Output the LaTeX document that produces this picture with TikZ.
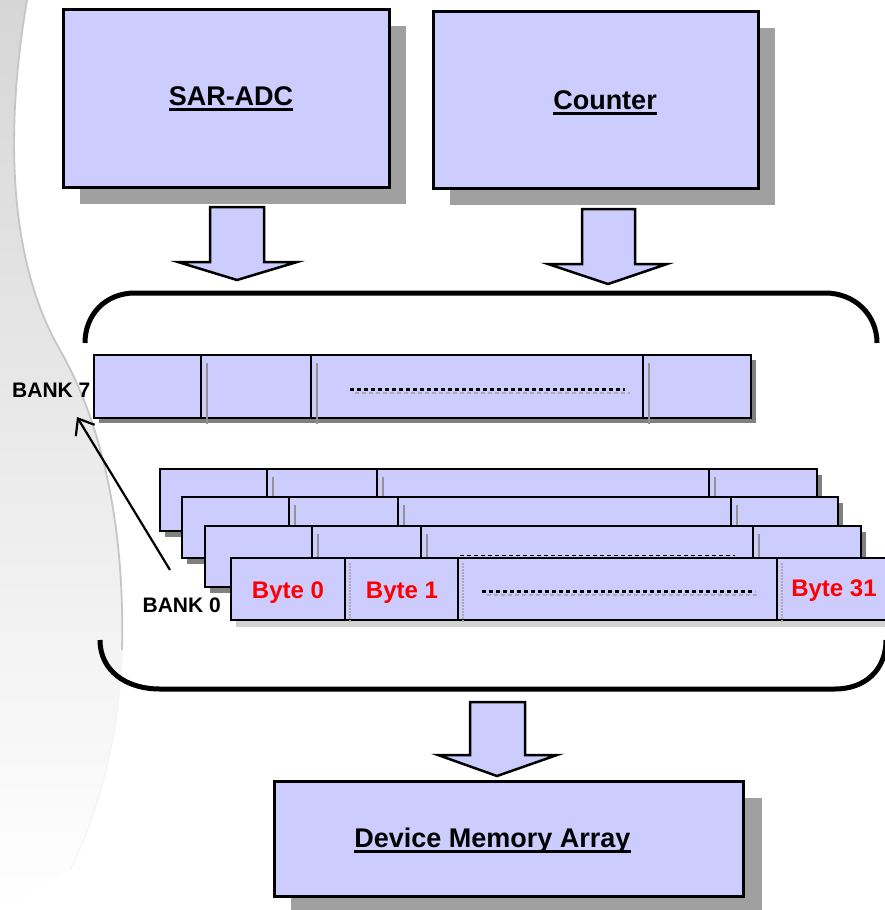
\documentclass[tikz,border=0pt]{standalone}
\usepackage{fontspec}
\setmainfont{Liberation Sans}
\usetikzlibrary{arrows.meta,shadows}
\definecolor{boxfill}{RGB}{204,204,255}
\definecolor{shadowgray}{RGB}{160,160,160}
\definecolor{rowshade}{RGB}{128,128,128}
\newcommand\myul[1]{\setbox0\hbox{#1}\rlap{\rule[-5.5pt]{\wd0}{2.6pt}}\box0}
\tikzset{
  bigbox/.style={draw=black, line width=3pt, fill=boxfill, inner sep=0pt, anchor=north west,
    drop shadow={shadow xshift=16pt, shadow yshift=-16pt, fill=shadowgray, opacity=1}},
  boxtitle/.style={font=\bfseries\fontsize{27}{30}\selectfont, inner sep=0pt, anchor=base},
  blockarrow/.style={draw=black, line width=2.5pt, fill=boxfill, line join=miter},
  rowbox/.style={draw=black, line width=2.6pt, fill=boxfill},
  rowshadow/.style={fill=rowshade, draw=none},
  divider/.style={line width=2.8pt},
  divshade/.style={line width=2.2pt, draw=gray!85},
  divdots/.style={line width=1.3pt, draw=gray!65, dash pattern=on 1.5pt off 1.5pt},
  blackdots/.style={line width=3pt, dash pattern=on 4pt off 3pt},
  greydots/.style={line width=2.5pt, dash pattern=on 4pt off 3pt, draw=gray!65},
  banklabel/.style={font=\bfseries\fontsize{21}{24}\selectfont, inner sep=0pt},
  bytelabel/.style={font=\bfseries\fontsize{24}{28}\selectfont, text=red, inner sep=0pt, anchor=base},
  bracket/.style={line width=5pt, line cap=butt},
}
\begin{document}
\begin{tikzpicture}[x=1pt,y=-1pt]
\useasboundingbox (0,0) rectangle (885,910);
\clip (0,0) rectangle (885,910);
\fill[white] (0,0) rectangle (885,910);
% background swoosh
\shade[top color=gray!32, middle color=gray!9, bottom color=white] (0,0) -- (27,0)
  .. controls (5,130) and (8,260) .. (60,350)
  .. controls (100,420) and (125,520) .. (122,650)
  .. controls (120,750) and (90,830) .. (70,870) -- (0,910) -- cycle;
\draw[gray!45, line width=1.8pt] (27,0)
  .. controls (5,130) and (8,260) .. (60,350)
  .. controls (100,420) and (125,520) .. (122,650);
\draw[gray!8, line width=1.5pt] (122,650) .. controls (120,750) and (90,830) .. (70,870);

% top boxes
\node[bigbox, minimum width=326pt, minimum height=178pt] (sar) at (62,8) {};
\node[bigbox, minimum width=325pt, minimum height=177pt] (cnt) at (432,10) {};
\node[boxtitle] (sartxt) at (231,105) {\myul{SAR-ADC}};
\node[boxtitle] (cnttxt) at (605,109) {\myul{Counter}};

% block arrows
\draw[blockarrow] (210,207) -- (264,207) -- (264,262) -- (297,262) -- (237,280) -- (178,262) -- (210,262) -- cycle;
\draw[blockarrow] (582,209) -- (635,209) -- (635,264) -- (667,264) -- (608,284) -- (548,264) -- (582,264) -- cycle;
\draw[blockarrow] (470,702) -- (525,702) -- (525,755) -- (557,755) -- (497,776) -- (438,755) -- (470,755) -- cycle;

% brackets
\draw[bracket] (85,343) .. controls (85,315) and (105,293) .. (135,293) -- (825,293)
  .. controls (855,293) and (877,315) .. (877,343);
\draw[bracket] (100,640) .. controls (100,670) and (125,689) .. (160,689) -- (835,689)
  .. controls (865,689) and (886,670) .. (886,640);

% BANK 7 row
\fill[rowshadow] (99,360) rectangle (756,423);
\draw[rowbox] (94,355) rectangle (751,418);
\foreach \d in {201,311,643}{
  \draw[divshade] (\d+6,363) -- (\d+6,424);
  \draw[divider] (\d,356) -- (\d,417);
}
\draw[greydots] (355,393) -- (630,393);
\draw[blackdots] (350,389) -- (625,389);

% stacked rows
\foreach \l/\t/\r/\b/\da/\db/\dc in {160/469/817/531/267/377/709,
                                      182/497/838/558/289/398/731,
                                      205/526/861/587/312/421/753}{
  \fill[rowshadow] (\l+5,\t+6) rectangle (\r+5,\b+6);
  \draw[rowbox] (\l,\t) rectangle (\r,\b);
  \foreach \d in {\da,\db,\dc}{
    \draw[divshade] (\d+6,\t+8) -- (\d+6,\b-1);
    \draw[divider] (\d,\t+1) -- (\d,\b-1);
  }
}
\draw[line width=1.2pt, dash pattern=on 4pt off 3pt] (460,555.5) -- (735,555.5);
% BANK 0 row
\fill[gray!35] (236,620) rectangle (900,627);
\draw[rowbox] (231,558) rectangle (900,620);
\foreach \d in {345,458,777}{
  \draw[divdots] (\d+5,563) -- (\d+5,623);
  \draw[divider] (\d,559) -- (\d,619);
}
\draw[greydots, line width=1.5pt] (487,595) -- (760,595);
\draw[blackdots] (482,591) -- (755,591);

% labels
\node[banklabel, anchor=base west] (bank7) at (12,397) {BANK 7};
\node[banklabel, anchor=base east] (bank0) at (221,612) {BANK 0};
\node[bytelabel] (byte0) at (288,598) {Byte 0};
\node[bytelabel] (byte1) at (402,598) {Byte 1};
\node[bytelabel] (byte31) at (834,596) {Byte 31};

% arrow bank 0 -> bank 7
\coordinate (b0tail) at (170,570);
\coordinate (b7tip) at (77,417);
\draw[line width=2.2pt, -{Straight Barb[length=14pt,width=22pt]}] (b0tail) -- (b7tip);

% bottom box
\node[bigbox, minimum width=469pt, minimum height=115pt,
  drop shadow={shadow xshift=18pt, shadow yshift=-16pt, fill=shadowgray, opacity=1}] (dma) at (273,780) {};
\node[boxtitle] (dmatxt) at (492.5,847) {\myul{Device Memory Array}};
\end{tikzpicture}
\end{document}
